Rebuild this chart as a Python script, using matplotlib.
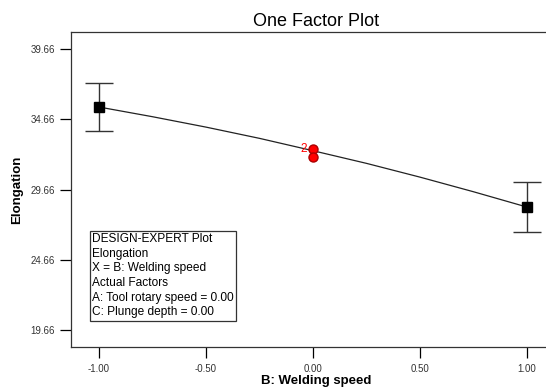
import matplotlib.pyplot as plt
import numpy as np

plt.rcParams['font.family'] = ['Liberation Sans', 'DejaVu Sans']

# design points (factor B levels) with mean and error-bar half width
x_pts = [-1.0, 1.0]
y_pts = [35.53, 28.41]
err_pts = [1.71, 1.75]

# model prediction line
x_line = [-1.0, -0.75, -0.5, -0.25, 0.0, 0.25, 0.5, 0.75, 1.0]
y_line = [35.53, 34.84, 34.10, 33.30, 32.42, 31.52, 30.54, 29.50, 28.41]

# centre points (red)
x_ctr = [0.0, 0.0]
y_ctr = [32.54, 31.97]

xticks = [-1.0, -0.5, 0.0, 0.5, 1.0]
yticks = [19.66, 24.66, 29.66, 34.66, 39.66]

fig = plt.figure(figsize=(5.46, 3.90), dpi=100)
# axes frame: left 71px, top 32px, bottom 347px, runs past right edge
ax = fig.add_axes([71/546, (390-347)/390, 490/546, (347-32)/390])

ax.plot(x_line, y_line, color='#222222', lw=0.9, zorder=2)
ax.errorbar(x_pts, y_pts, yerr=err_pts, fmt='s', color='black', ms=7,
            ecolor='#333333', elinewidth=1.0, capsize=10, capthick=1.0, zorder=3)
ax.plot(x_ctr, y_ctr, 'o', color='red', mec='#aa0000', ms=6.5, zorder=4)
ax.text(-0.045, y_ctr[0], '2', color='red', fontsize=8.5, ha='center', va='center')

ax.set_xlim(-1.131, 1.159)
ax.set_ylim(18.45, 40.87)
ax.set_xticks(xticks)
ax.set_yticks(yticks)
ax.set_xticklabels(['%.2f' % v for v in xticks])
ax.set_yticklabels(['%.2f' % v for v in yticks])
ax.tick_params(axis='both', labelsize=7, labelcolor='#333333', length=8, width=0.9)
ax.tick_params(axis='x', pad=4)
ax.spines['right'].set_visible(False)
for s in ['left', 'bottom', 'top']:
    ax.spines[s].set_linewidth(0.9)
    ax.spines[s].set_color('#333333')

ax.set_title('One Factor Plot', fontsize=13, pad=4)
ax.set_xlabel('B: Welding speed', fontsize=9.5, fontweight='bold', labelpad=1)
ax.set_ylabel('Elongation', fontsize=9.5, fontweight='bold', labelpad=5)

info = ('DESIGN-EXPERT Plot\nElongation\nX = B: Welding speed\n'
        'Actual Factors\nA: Tool rotary speed = 0.00\nC: Plunge depth = 0.00')
ax.text(0.043, 0.362, info, transform=ax.transAxes, fontsize=8.6, va='top',
        ha='left', linespacing=1.3,
        bbox=dict(boxstyle='square,pad=0.2', fc='white', ec='#333333', lw=0.9))

fig.savefig('out.png', dpi=100)
